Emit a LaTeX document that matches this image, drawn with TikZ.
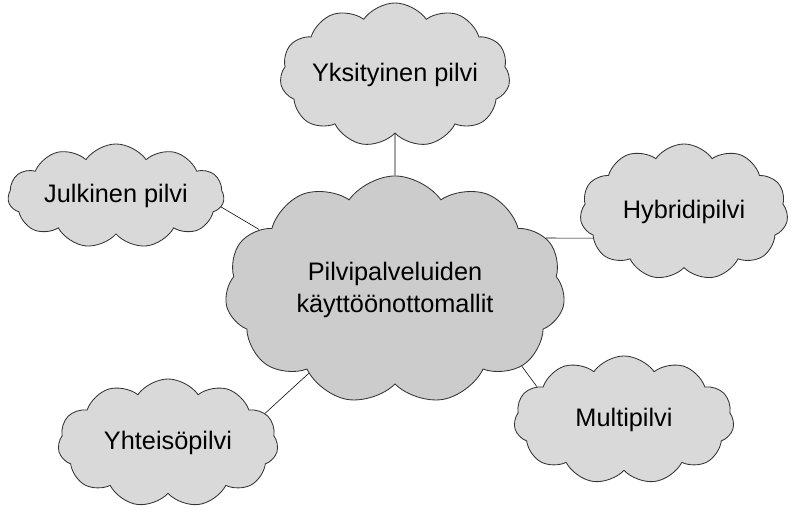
\documentclass[tikz,border=0pt]{standalone}
\usepackage{fontspec}
\setmainfont{Liberation Sans}
\usetikzlibrary{shapes.symbols,backgrounds}
\definecolor{cloudgray}{HTML}{D9D9D9}
\definecolor{maingray}{HTML}{CCCCCC}
\begin{document}
\begin{tikzpicture}[x=0.025cm, y=-0.025cm,
  pilvi/.style={cloud, cloud puffs=11, cloud puff arc=110, cloud ignores aspect, draw=black!80, line width=0.6pt, fill=cloudgray, inner sep=0pt, font=\fontsize{18}{23}\selectfont, align=center}]
\useasboundingbox (0,0) rectangle (798,518);
\node[pilvi, fill=maingray, minimum width=8.5cm, minimum height=5.7cm] (cl0) at (395,290){Pilvipalveluiden\\käyttöönottomallit};
\node[pilvi, minimum width=4.8cm, minimum height=3.6cm] (cl1) at (395,75){Yksityinen pilvi};
\node[pilvi, minimum width=5.4cm, minimum height=2.6cm] (cl2) at (116,196){Julkinen pilvi};
\node[pilvi, minimum width=5.2cm, minimum height=3.4cm] (cl3) at (684,212){Hybridipilvi};
\node[pilvi, minimum width=5.5cm, minimum height=3.2cm] (cl4) at (624,420){Multipilvi};
\node[pilvi, minimum width=5.5cm, minimum height=3.2cm] (cl5) at (168,443){Yhteisöpilvi};
\begin{scope}[on background layer]
\draw[](cl0.90) -- (cl1.270);
\draw[](cl0.156) -- (cl2.-6);
\draw[](cl0.19) -- (cl3.196);
\draw[](cl0.-31) -- (cl4.159);
\draw[](cl0.224) -- (cl5.17);
\end{scope}

\end{tikzpicture}
\end{document}
